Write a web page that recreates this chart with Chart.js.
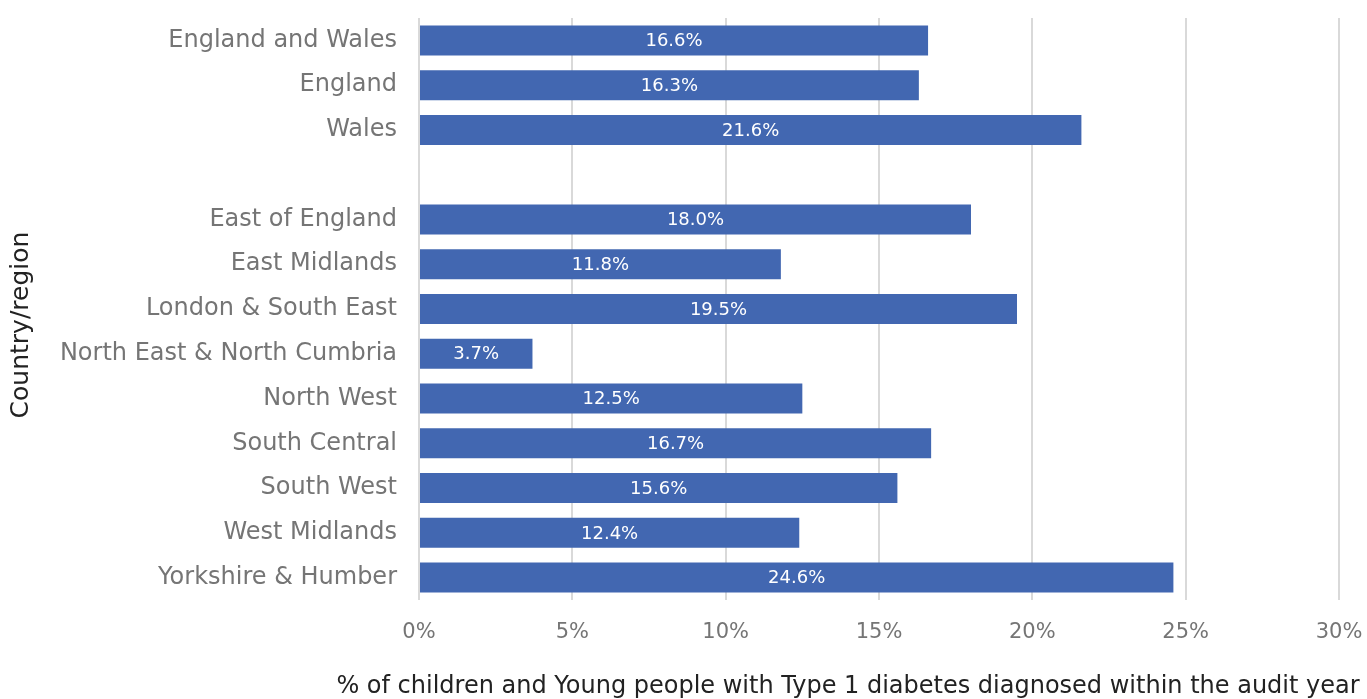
<!DOCTYPE html>
<html>
<head>
<meta charset="utf-8">
<script src="https://cdn.jsdelivr.net/npm/chart.js@4"></script>
<style>
  html, body { margin: 0; padding: 0; background: #fff; overflow: hidden; }
  #wrap { width: 1367px; height: 699px; position: relative; }
</style>
</head>
<body>
<div id="wrap"><canvas id="diabChart"></canvas></div>
<script>
const regions = ['England and Wales', 'England', 'Wales', '', 'East of England', 'East Midlands',
  'London & South East', 'North East & North Cumbria', 'North West', 'South Central',
  'South West', 'West Midlands', 'Yorkshire & Humber'];
const pctDiagnosed = [16.6, 16.3, 21.6, null, 18.0, 11.8, 19.5, 3.7, 12.5, 16.7, 15.6, 12.4, 24.6];
const xTicks = [0, 5, 10, 15, 20, 25, 30];
const xTitle = '% of children and Young people with Type 1 diabetes diagnosed within the audit year';
const yTitle = 'Country/region';

const FONT = "'DejaVu Sans', sans-serif";

// white value labels in the middle of each bar
const barLabels = {
    id: 'barLabels',
    afterDatasetsDraw(chart) {
        const c = chart.ctx;
        const meta = chart.getDatasetMeta(0);
        c.save();
        c.font = '18px ' + FONT;
        c.fillStyle = '#ffffff';
        c.textAlign = 'center';
        c.textBaseline = 'middle';
        meta.data.forEach((bar, i) => {
            const v = pctDiagnosed[i];
            if (v == null) return;
            c.fillText(v.toFixed(1) + '%', (bar.x + bar.base) / 2, bar.y + 1);
        });
        c.restore();
    }
};

// axis titles, placed like the original
const axisTitles = {
    id: 'axisTitles',
    afterDraw(chart) {
        const c = chart.ctx;
        c.save();
        c.fillStyle = '#222222';
        c.textAlign = 'center';
        c.textBaseline = 'middle';
        c.font = '24px ' + FONT;
        c.fillText(xTitle, 848, 687);
        c.font = '25px ' + FONT;
        c.translate(21, 325);
        c.rotate(-Math.PI / 2);
        c.fillText(yTitle, 0, 0);
        c.restore();
    }
};

new Chart(document.getElementById('diabChart').getContext('2d'), {
    type: 'bar',
    data: {
        labels: regions,
        datasets: [{
            data: pctDiagnosed,
            backgroundColor: '#4267b1',
            barPercentage: 0.67,
            categoryPercentage: 1
        }]
    },
    options: {
        indexAxis: 'y',
        responsive: true,
        maintainAspectRatio: false,
        animation: false,
        layout: { padding: { top: 18, right: 28, left: 0, bottom: 0 } },
        plugins: { legend: { display: false }, tooltip: { enabled: false } },
        scales: {
            x: {
                min: 0, max: 30,
                afterBuildTicks: s => { s.ticks = xTicks.map(v => ({ value: v })); },
                afterFit: s => { s.height = 99; s.paddingLeft = 0; s.paddingRight = 0; },
                grid: { color: '#d9d9d9', lineWidth: 2, drawTicks: false },
                border: { display: false },
                ticks: {
                    color: '#757575',
                    font: { family: FONT, size: 21 },
                    padding: 20,
                    callback: v => v + '%'
                }
            },
            y: {
                afterFit: s => { s.width = 419; s.paddingTop = 0; s.paddingBottom = 0; },
                grid: { display: false, drawTicks: false },
                border: { display: false },
                ticks: {
                    color: '#757575',
                    font: { family: FONT, size: 24 },
                    padding: 22
                }
            }
        }
    },
    plugins: [barLabels, axisTitles]
});
</script>
</body>
</html>
